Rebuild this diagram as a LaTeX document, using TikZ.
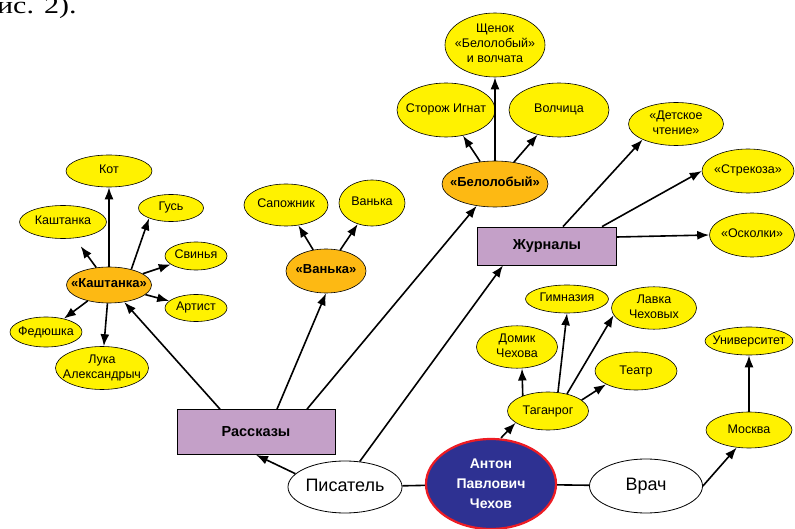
\documentclass[tikz,border=0pt]{standalone}
\usepackage{fontspec}
\setmainfont{Liberation Sans}
\newfontfamily\serif{Liberation Serif}
\usepackage{tikz}
\usetikzlibrary{arrows.meta,positioning,shapes.geometric}

\definecolor{ylw}{RGB}{255,242,0}
\definecolor{orng}{RGB}{253,185,19}
\definecolor{lilac}{RGB}{196,160,200}
\definecolor{navy}{RGB}{46,49,146}
\definecolor{rd}{RGB}{237,28,36}
\newcommand{\elab}[1]{\makebox[0pt]{\begin{tabular}{@{}c@{}}#1\end{tabular}}}

\begin{document}
\begin{tikzpicture}[on grid, >={Latex[length=12pt,width=9pt]},
  every node/.style={inner sep=0pt},
  sz/.style 2 args={minimum width=#1pt,minimum height=#2pt},
  leaf/.style={ellipse,draw,line width=0.6pt,fill=ylw,font=\fontsize{12.5}{15}\selectfont},
  work/.style={ellipse,draw,line width=0.6pt,fill=orng,font=\bfseries\fontsize{13}{15}\selectfont},
  topic/.style={rectangle,draw,line width=0.8pt,fill=lilac,font=\bfseries\fontsize{14.5}{17}\selectfont},
  role/.style={ellipse,draw,line width=0.8pt,fill=white,font=\fontsize{18}{20}\selectfont},
  person/.style={ellipse,draw=rd,line width=2.2pt,fill=navy,text=white,font=\bfseries\fontsize{14}{20}\selectfont},
  link/.style={line width=1.6pt}]

\useasboundingbox (0,0) rectangle (795pt,528pt);

\node[anchor=base west,font=\serif\fontsize{24}{24}\selectfont] (fig) at (-3pt,514pt) {\scalebox{1.25}[1]{ис. 2).}};

\node[person,sz={130}{90}] (apch) at (491pt,44pt) {\elab{Антон\\Павлович\\Чехов}};
\node[role,sz={114}{52},left=146pt of apch,yshift=-3pt] (pis) {\elab{Писатель}};
\node[role,sz={113}{54},right=155pt of apch,yshift=-2pt] (vr) {\elab{Врач}};

\node[topic,sz={158}{45},above left=55pt and 89pt of pis] (rsk) {Рассказы};
\node[topic,sz={139}{38},above right=241pt and 202pt of pis] (zh) {Журналы};

\node[work,sz={85}{36},above left=147pt and 147pt of rsk] (k0) {\elab{«Каштанка»}};
\node[leaf,sz={86}{32},above=114pt of k0] (kot) {\elab{Кот}};
\node[leaf,sz={65}{27},above right=77pt and 62pt of k0] (gus) {\elab{Гусь}};
\node[leaf,sz={87}{33},above left=63pt and 46pt of k0] (kd) {\elab{Каштанка}};
\node[leaf,sz={62}{28},above right=29pt and 87pt of k0] (svin) {\elab{Свинья}};
\node[leaf,sz={62}{27},below right=23pt and 87pt of k0] (art) {\elab{Артист}};
\node[leaf,sz={72}{30},below left=47pt and 63pt of k0] (fed) {\elab{Федюшка}};
\node[leaf,sz={93}{43},below left=83pt and 7pt of k0] (luka) {\elab{Лука\\Александрыч}};

\node[work,sz={80}{44},above right=161pt and 70pt of rsk] (v0) {\elab{«Ванька»}};
\node[leaf,sz={84}{42},above left=66pt and 40pt of v0] (sap) {\elab{Сапожник}};
\node[leaf,sz={66}{46},above right=68pt and 46pt of v0] (van) {\elab{Ванька}};

\node[work,sz={106}{46},above right=248pt and 239pt of rsk] (b0) {\elab{«Белолобый»}};
\node[leaf,sz={100}{64},above=139pt of b0] (shch) {\elab{Щенок\\«Белолобый»\\и волчата}};
\node[leaf,sz={98}{54},above left=74pt and 49pt of b0] (stor) {\elab{Сторож Игнат}};
\node[leaf,sz={100}{54},above right=74pt and 64pt of b0] (volch) {\elab{Волчица}};

\node[leaf,sz={95}{43},above right=122pt and 129pt of zh] (det) {\elab{«Детское\\чтение»}};
\node[leaf,sz={92}{44},above right=75pt and 201pt of zh] (strek) {\elab{«Стрекоза»}};
\node[leaf,sz={85}{44},above right=11pt and 205pt of zh] (osk) {\elab{«Осколки»}};

\node[leaf,sz={81}{38},above right=73pt and 57pt of apch] (tag) {\elab{Таганрог}};
\node[leaf,sz={81}{39},above left=64pt and 31pt of tag] (dom) {\elab{Домик\\Чехова}};
\node[leaf,sz={83}{28},above right=112pt and 19pt of tag] (gim) {\elab{Гимназия}};
\node[leaf,sz={85}{40},above right=103pt and 106pt of tag] (lav) {\elab{Лавка\\Чеховых}};
\node[leaf,sz={82}{38},above right=40pt and 88pt of tag] (teat) {\elab{Театр}};

\node[leaf,sz={86}{36},above right=56pt and 103pt of vr] (mos) {\elab{Москва}};
\node[leaf,sz={88}{28},above=89pt of mos] (univ) {\elab{Университет}};

\draw [link] (pis) to (apch);
\draw [link] (apch) to (vr);
\draw [link,->] (pis.165) to (rsk.south);
\draw [link,->] (pis.60) to ([xshift=-44pt]zh.south);

\draw [link,->] ([xshift=-36pt]rsk.north) to (k0);
\draw [link,->] ([xshift=21pt]rsk.north) to (v0.south);
\draw [link,->] ([xshift=51pt]rsk.north) to (b0);

\draw [link,->] (k0) to (kot);
\draw [link,->] (k0.35) to (gus.205);
\draw [link,->,shorten >=10pt] (k0) to (kd);
\draw [link,->] (k0) to (svin);
\draw [link,->] (k0) to (art);
\draw [link,->] (k0) to (fed);
\draw [link,->] (k0) to (luka);

\draw [link,->] (v0) to (sap);
\draw [link,->] (v0) to (van);

\draw [link,->] (b0) to (shch);
\draw [link,->] (b0) to (stor);
\draw [link,->] (b0) to (volch);

\draw [link,->] ([xshift=16pt]zh.north) to (det.205);
\draw [link,->] ([xshift=55pt]zh.north) to (strek.west);
\draw [link,->] ([yshift=9pt]zh.east) to (osk.west);

\draw [link,->] ([xshift=10pt]apch.north) to (tag.200);
\draw [link,->] (tag.149) to ([xshift=5pt]dom.south);
\draw [link,->] (tag.62) to (gim.south);
\draw [link,->] (tag.42) to (lav.190);
\draw [link,->] (tag.18) to (teat.204);

\draw [link,->] (vr.east) to (mos.235);
\draw [link,->] (mos) to (univ);

\end{tikzpicture}
\end{document}
